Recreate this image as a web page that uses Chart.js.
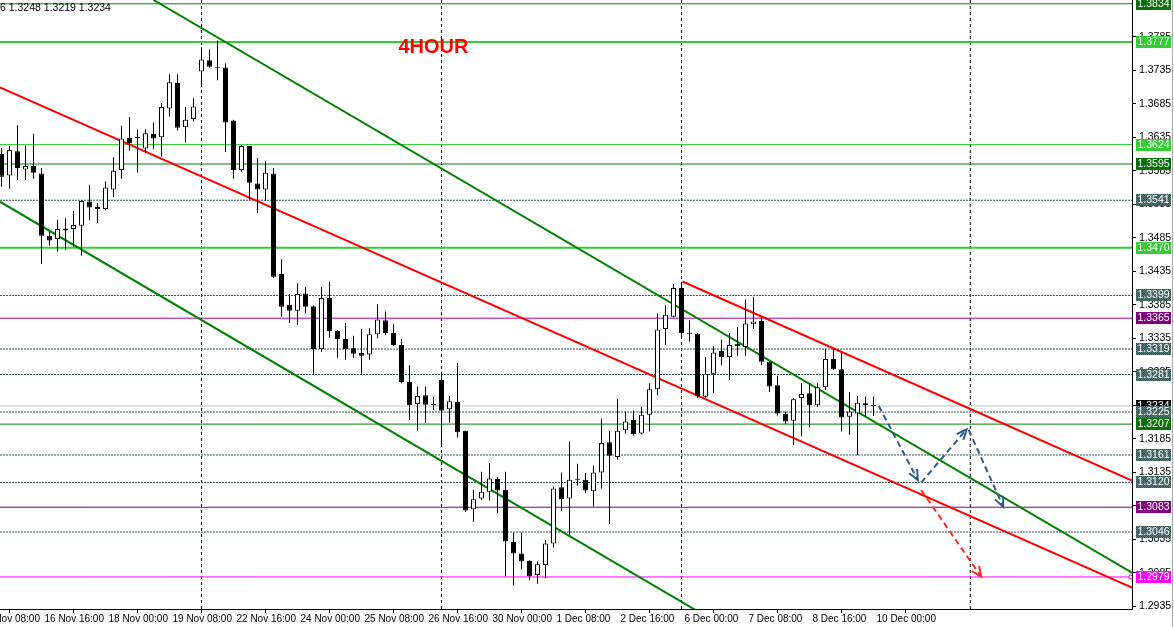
<!DOCTYPE html>
<html><head><meta charset="utf-8">
<script src="https://cdn.jsdelivr.net/npm/chart.js@4.4.1/dist/chart.umd.min.js"></script>
<style>html,body{margin:0;padding:0;background:#fff;overflow:hidden}canvas{display:block}</style>
</head><body>
<canvas id="c" width="1174" height="627"></canvas>
<script>
// ---- candle data (4H bars, index 0 = 15 Nov 20:00) ----
const opens = [
1.3610,1.3578,1.3614,1.3587,1.3592,1.3581,1.3488,1.3483,1.3499,1.3498,
1.3503,1.3539,1.3531,1.3528,1.3557,1.3586,1.3634,1.3634,1.3618,1.3640,
1.3635,1.3678,1.3716,1.3650,1.3662,1.3733,1.3750,1.3739,1.3739,1.3660,
1.3586,1.3622,1.3566,1.3557,1.3581,1.3431,1.3385,1.3376,1.3402,1.3383,
1.3319,1.3395,1.3346,1.3334,1.3320,1.3313,1.3311,1.3341,1.3362,1.3343,
1.3325,1.3270,1.3237,1.3250,1.3237,1.3273,1.3229,1.3240,1.3197,1.3080,
1.3096,1.3106,1.3125,1.3109,1.3031,1.3014,1.3003,1.2982,1.2997,1.3029,
1.3113,1.3096,1.3124,1.3124,1.3107,1.3135,1.3180,1.3158,1.3198,1.3213,
1.3193,1.3221,1.3259,1.3349,1.3367,1.3410,1.3343,1.3342,1.3248,1.3282,
1.3316,1.3307,1.3327,1.3322,1.3356,1.3361,1.3300,1.3265,1.3222,1.3212,
1.3246,1.3253,1.3235,1.3262,1.3304,1.3289,1.3218,1.3223,1.3238,1.3236];
const highs = [
1.3619,1.3622,1.3653,1.3622,1.3640,1.3589,1.3494,1.3512,1.3514,1.3525,
1.3541,1.3564,1.3537,1.3569,1.3605,1.3652,1.3665,1.3646,1.3647,1.3657,
1.3686,1.3729,1.3729,1.3680,1.3693,1.3769,1.3766,1.3779,1.3745,1.3661,
1.3623,1.3622,1.3604,1.3599,1.3589,1.3453,1.3401,1.3417,1.3411,1.3384,
1.3411,1.3419,1.3347,1.3358,1.3339,1.3349,1.3350,1.3386,1.3375,1.3356,
1.3334,1.3295,1.3263,1.3263,1.3248,1.3285,1.3249,1.3298,1.3197,1.3109,
1.3136,1.3149,1.3128,1.3136,1.3045,1.3045,1.3004,1.3002,1.3034,1.3114,
1.3135,1.3181,1.3148,1.3134,1.3145,1.3215,1.3197,1.3245,1.3226,1.3227,
1.3233,1.3268,1.3372,1.3385,1.3416,1.3417,1.3362,1.3343,1.3307,1.3323,
1.3333,1.3343,1.3352,1.3393,1.3397,1.3367,1.3301,1.3279,1.3226,1.3246,
1.3268,1.3268,1.3268,1.3319,1.3319,1.3313,1.3255,1.3249,1.3248,1.3248];
const lows = [
1.3561,1.3558,1.3571,1.3571,1.3573,1.3446,1.3473,1.3464,1.3467,1.3472,
1.3458,1.3511,1.3507,1.3526,1.3546,1.3573,1.3615,1.3582,1.3611,1.3617,
1.3606,1.3666,1.3645,1.3627,1.3658,1.3710,1.3739,1.3720,1.3613,1.3573,
1.3583,1.3542,1.3522,1.3540,1.3425,1.3367,1.3358,1.3355,1.3372,1.3282,
1.3315,1.3336,1.3306,1.3303,1.3306,1.3282,1.3303,1.3335,1.3340,1.3323,
1.3268,1.3213,1.3197,1.3209,1.3228,1.3175,1.3209,1.3187,1.3076,1.3061,
1.3094,1.3093,1.3074,1.2980,1.2966,1.2990,1.2974,1.2969,1.2977,1.3023,
1.3077,1.3042,1.3115,1.3104,1.3084,1.3111,1.3058,1.3154,1.3193,1.3190,
1.3192,1.3196,1.3250,1.3325,1.3366,1.3338,1.3330,1.3246,1.3246,1.3253,
1.3295,1.3273,1.3309,1.3309,1.3349,1.3295,1.3255,1.3220,1.3207,1.3176,
1.3189,1.3202,1.3233,1.3258,1.3288,1.3196,1.3191,1.3161,1.3218,1.3219];
const closes = [
1.3576,1.3616,1.3589,1.3592,1.3582,1.3488,1.3481,1.3498,1.3496,1.3504,
1.3540,1.3530,1.3528,1.3560,1.3585,1.3633,1.3626,1.3635,1.3641,1.3633,
1.3680,1.3717,1.3649,1.3661,1.3681,1.3751,1.3740,1.3738,1.3657,1.3586,
1.3622,1.3567,1.3557,1.3582,1.3427,1.3382,1.3376,1.3401,1.3382,1.3319,
1.3395,1.3346,1.3334,1.3319,1.3312,1.3309,1.3341,1.3363,1.3343,1.3325,
1.3270,1.3235,1.3249,1.3236,1.3235,1.3227,1.3241,1.3195,1.3078,1.3095,
1.3106,1.3126,1.3108,1.3032,1.3014,1.3002,1.2980,1.2998,1.3029,1.3111,
1.3095,1.3124,1.3125,1.3108,1.3135,1.3179,1.3160,1.3197,1.3211,1.3192,
1.3221,1.3259,1.3348,1.3370,1.3410,1.3343,1.3342,1.3249,1.3282,1.3314,
1.3307,1.3325,1.3323,1.3357,1.3360,1.3300,1.3263,1.3223,1.3211,1.3244,
1.3252,1.3235,1.3262,1.3304,1.3289,1.3217,1.3226,1.3239,1.3235,1.3234];

// ---- axis labels ----
const timeTickBars = [-3,5,13,21,29,37,45,53,61,69,77,85,93,101,109];
const timeTickLabels = ['15 Nov 08:00','16 Nov 16:00','18 Nov 00:00','19 Nov 08:00','22 Nov 16:00','24 Nov 00:00','25 Nov 08:00','26 Nov 16:00','30 Nov 00:00','1 Dec 08:00','2 Dec 16:00','6 Dec 00:00','7 Dec 08:00','8 Dec 16:00','10 Dec 00:00'];
const priceTicks = [1.2935,1.2985,1.3035,1.3085,1.3135,1.3185,1.3235,1.3285,1.3335,1.3385,1.3435,1.3485,1.3535,1.3585,1.3635,1.3685,1.3735,1.3785];

// ---- horizontal levels ----
const levelValues = [1.3834,1.3777,1.3624,1.3595,1.3541,1.3470,1.3399,1.3365,1.3319,1.3281,1.3234,1.3225,1.3207,1.3161,1.3120,1.3083,1.3046,1.2979];
const levelKinds  = ['green','lime2','lime1','green','slate','lime2','slate','purpleA','slate','slate','bid','slate','green','slate','slate','purpleB','slate','magenta'];

// ---- drawn objects (bar index, price) ----
const separatorBars = [25,55,85,121.1];
const greenUpper = [[19,1.38397],[141.31,1.29856]];
const greenLower = [[-0.19,1.35388],[86.75,1.29297]];
const redLower   = [[-0.19,1.37092],[141.31,1.29630]];
const redUpper   = [[85.125,1.34198],[141.31,1.31229]];
const blueArrows = [[[109.66,1.32340],[114.54,1.31236]],[[114.96,1.31196],[120.63,1.31993]],[[120.91,1.31982],[125.21,1.30838]]];
const redArrow   = [[114.96,1.31087],[122.46,1.29794]];
const headerText = '6 1.3248 1.3219 1.3234';
const titleText = '4HOUR';
const titleAnchor = [54.0, 1.3769];

// ---- styles ----
const X_MIN = -0.1875, X_MAX = 141.3125, Y_MIN = 1.29312, Y_MAX = 1.38397;
const FONT_FAMILY = "'Liberation Sans Narrow','Liberation Sans',Arial,sans-serif";
const kindStyle = {
  green:  {line:'#008000', w:1, dash:[],    box:'#0B6F0B'},
  lime2:  {line:'#32CD32', w:2, dash:[],    box:'#32CD32'},
  lime1:  {line:'#32CD32', w:1, dash:[],    box:'#32CD32'},
  slate:  {line:'#2F4F4F', w:1, dash:[2,1], box:'pattern'},
  purpleA:{line:'#A800A8', w:1, dash:[],    box:'#800080'},
  purpleB:{line:'#800080', w:1, dash:[],    box:'#800080'},
  bid:    {line:'#C0C0C0', w:1, dash:[],    box:'#000000'},
  magenta:{line:'#FF00FF', w:1, dash:[],    box:'#FF00FF'}
};

const pat = document.createElement('canvas'); pat.width = 2; pat.height = 2;
(function(){const p = pat.getContext('2d'); p.fillStyle = '#2F4F4F'; p.fillRect(0,0,2,2); p.fillStyle = '#5E7E7E'; p.fillRect(0,0,1,1); p.fillRect(1,1,1,1);})();

const seg = (pts) => pts.map(p => ({x:p[0], y:p[1]}));
const datasets = [];

levelValues.forEach((v,k) => {
  const s = kindStyle[levelKinds[k]];
  datasets.push({type:'line', data:[{x:X_MIN,y:v},{x:X_MAX,y:v}], borderColor:s.line, borderWidth:s.w, borderDash:s.dash, pointRadius:0, pointBorderWidth:0, fill:false, order:10});
});
datasets.push({type:'line', data:[{x:141.18, y:1.2979}], showLine:false, pointStyle:'rect', pointRadius:2.5, pointBackgroundColor:'#fff', pointBorderColor:'#FF00FF', pointBorderWidth:1, order:9});
separatorBars.forEach(b => datasets.push({type:'line', data:[{x:b,y:Y_MAX},{x:b,y:Y_MIN}], borderColor:'#000', borderWidth:1, borderDash:[3,3], pointRadius:0, pointBorderWidth:0, order:10}));
[[greenUpper,'#008000'],[greenLower,'#008000'],[redLower,'#FF0000'],[redUpper,'#FF0000']].forEach(([pts,c]) =>
  datasets.push({type:'line', data:seg(pts), borderColor:c, borderWidth:2, pointRadius:0, pointBorderWidth:0, order:8}));
blueArrows.forEach(a => datasets.push({type:'line', data:seg(a), borderColor:'#2E5A8A', borderWidth:2, borderDash:[6,4], pointRadius:0, pointBorderWidth:0, order:7}));
datasets.push({type:'line', data:seg(redArrow), borderColor:'#FF2A2A', borderWidth:2, borderDash:[6,4], pointRadius:0, pointBorderWidth:0, order:7});

datasets.push({type:'bar', data:highs.map((h,i)=>({x:i, y:[lows[i], h]})), backgroundColor:'#000', borderWidth:0, grouped:false, barPercentage:0.125, categoryPercentage:1, minBarLength:1, order:3});
datasets.push({type:'bar', data:opens.map((o,i)=>({x:i, y:[o, closes[i]]})),
  backgroundColor: opens.map((o,i)=> closes[i] >= o ? '#FFFFFF' : '#000000'),
  borderColor:'#000', borderWidth:1, borderSkipped:false, grouped:false, barPercentage:0.625, categoryPercentage:1, minBarLength:1, order:2});

function drawArrowHead(ctx, x1, y1, x2, y2, color){
  const a = Math.atan2(y2-y1, x2-x1), L = 11, s = 0.42;
  ctx.strokeStyle = color; ctx.lineWidth = 2; ctx.setLineDash([]);
  ctx.beginPath();
  ctx.moveTo(x2 - L*Math.cos(a - s), y2 - L*Math.sin(a - s));
  ctx.lineTo(x2, y2);
  ctx.lineTo(x2 - L*Math.cos(a + s), y2 - L*Math.sin(a + s));
  ctx.stroke();
}

const overlay = {
  id:'overlay',
  afterDatasetsDraw(chart){
    const {ctx, chartArea:ar, scales:{x, y}} = chart;
    ctx.save();
    ctx.beginPath(); ctx.rect(ar.left, ar.top, ar.right-ar.left, ar.bottom-ar.top); ctx.clip();
    blueArrows.forEach(a => drawArrowHead(ctx, x.getPixelForValue(a[0][0]), y.getPixelForValue(a[0][1]), x.getPixelForValue(a[1][0]), y.getPixelForValue(a[1][1]), '#2E5A8A'));
    drawArrowHead(ctx, x.getPixelForValue(redArrow[0][0]), y.getPixelForValue(redArrow[0][1]), x.getPixelForValue(redArrow[1][0]), y.getPixelForValue(redArrow[1][1]), '#FF2A2A');
    ctx.fillStyle = '#FF0000'; ctx.font = "bold 20px 'Liberation Sans',Arial,sans-serif";
    ctx.textAlign = 'center'; ctx.textBaseline = 'middle';
    ctx.fillText(titleText, x.getPixelForValue(titleAnchor[0]), y.getPixelForValue(titleAnchor[1]));
    ctx.fillStyle = '#000'; ctx.font = "10.5px " + FONT_FAMILY; ctx.textAlign = 'left'; ctx.textBaseline = 'top';
    ctx.fillText(headerText, 0, 3);
    ctx.restore();
  },
  afterDraw(chart){
    const {ctx, chartArea:ar, scales:{y}} = chart;
    ctx.save();
    const pattern = ctx.createPattern(pat, 'repeat');
    ctx.font = "10.5px " + FONT_FAMILY; ctx.textAlign = 'center'; ctx.textBaseline = 'middle';
    levelValues.forEach((v,k) => {
      const s = kindStyle[levelKinds[k]];
      const py = Math.round(y.getPixelForValue(v));
      ctx.fillStyle = s.box === 'pattern' ? pattern : s.box;
      ctx.fillRect(ar.right + 4, py - 6, 35, 12);
      ctx.fillStyle = '#FFFFFF';
      ctx.fillText(v.toFixed(4), ar.right + 4 + 17.5, py + 0.5);
    });
    ctx.strokeStyle = '#A8A8A8'; ctx.lineWidth = 1;
    ctx.beginPath(); ctx.moveTo(chart.width - 1.5, 0); ctx.lineTo(chart.width - 1.5, chart.height); ctx.stroke();
    ctx.restore();
  }
};

new Chart(document.getElementById('c'), {
  type:'bar',
  data:{datasets},
  options:{
    responsive:false, animation:false, devicePixelRatio:1, events:[],
    layout:{padding:0, autoPadding:false},
    plugins:{legend:{display:false}, tooltip:{enabled:false}},
    scales:{
      x:{type:'linear', min:X_MIN, max:X_MAX, offset:false,
        grid:{drawOnChartArea:false, drawTicks:true, tickLength:4, color:'#000'},
        border:{display:true, color:'#000'},
        afterBuildTicks:(s)=>{ s.ticks = timeTickBars.map(v=>({value:v})); },
        ticks:{autoSkip:false, maxRotation:0, align:'start', labelOffset:3, padding:0, color:'#000', font:{family:FONT_FAMILY, size:10},
          callback:(v)=>{ const k = timeTickBars.indexOf(v); return k >= 0 ? timeTickLabels[k] : ''; }},
        afterFit:(s)=>{ s.height = 18; s.paddingLeft = 0; s.paddingRight = 0; }
      },
      y:{type:'linear', position:'right', min:Y_MIN, max:Y_MAX,
        grid:{drawOnChartArea:false, drawTicks:true, tickLength:4, color:'#000'},
        border:{display:true, color:'#000'},
        afterBuildTicks:(s)=>{ s.ticks = priceTicks.map(v=>({value:v})); },
        ticks:{padding:3, color:'#000', font:{family:FONT_FAMILY, size:10.5}, callback:(v)=>Number(v).toFixed(4)},
        afterFit:(s)=>{ s.width = 42; s.paddingTop = 0; s.paddingBottom = 0; }
      }
    }
  },
  plugins:[overlay]
});
</script>
</body></html>
